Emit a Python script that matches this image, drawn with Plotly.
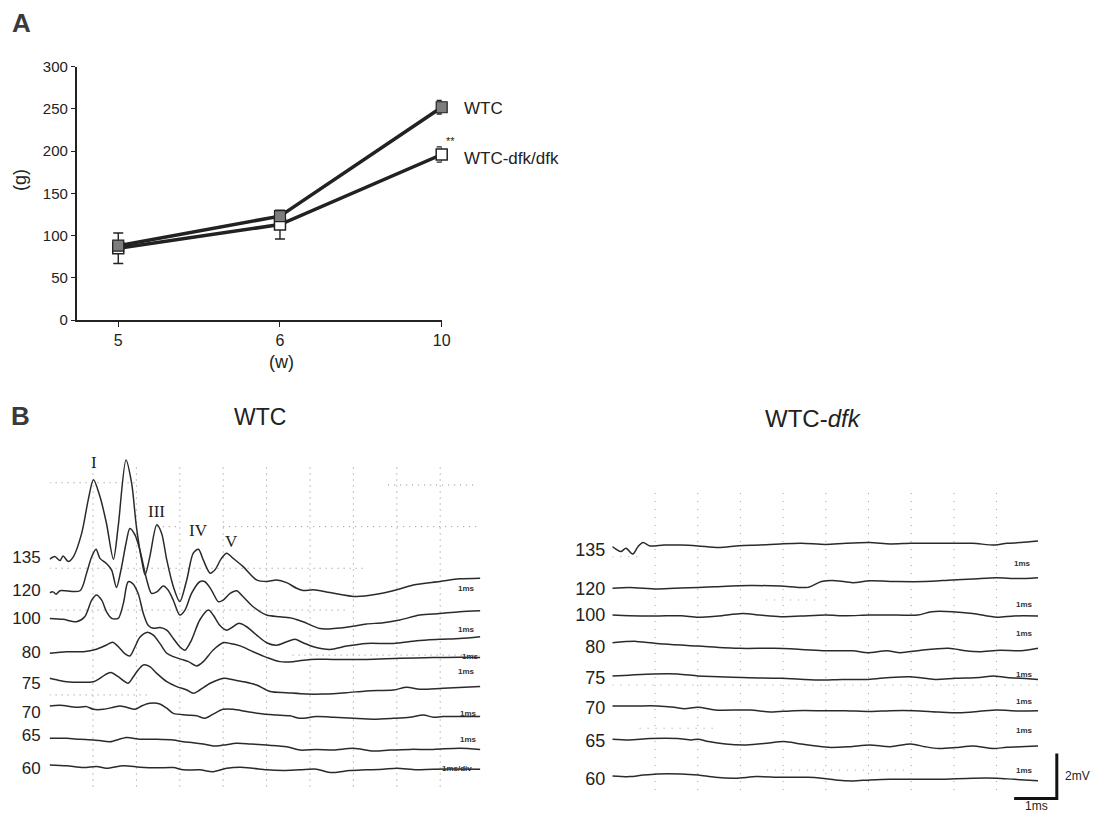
import plotly.graph_objects as go

# page geometry: the browser body keeps an 8px margin, so the figure is drawn inside it
PAGE_W, PAGE_H = 1101, 821
BODY = 8
W, H = PAGE_W - 2 * BODY, PAGE_H - 2 * BODY
FONT = "Liberation Sans, Arial, sans-serif"
SERIF = "Liberation Serif, DejaVu Serif, serif"
INK = "#222222"

# ---------------- Panel A data (body weight) ----------------
weeks = ["5", "6", "10"]
wtc_weight = [88, 123, 252]
wtc_sd = [5, 5, 8]
dfk_weight = [85, 113, 196]
dfk_sd = [18, 17, 9]

# ---------------- Panel B data (ABR waveforms, ms / mV relative to baseline) ----------------
intensities = [135, 120, 100, 80, 75, 70, 65, 60]

wtc_135 = [(0, 0), (0.12, 0.12), (0.24, -0.06), (0.31, 0.15), (0.43, -0.10), (0.55, 0.12), (0.74, 1.16), (0.89, 2.64),
           (1.01, 3.53), (1.16, 2.79), (1.31, 1.60), (1.47, 0.00), (1.58, 1.45), (1.76, 4.41), (1.89, 3.38), (2.00, 1.45),
           (2.12, -0.03), (2.20, -0.70), (2.31, 0.12), (2.47, 1.53), (2.58, 1.16), (2.70, -0.03), (2.85, -1.21),
           (3.00, -1.88), (3.16, -0.92), (3.31, 0.27), (3.43, 0.44), (3.54, -0.03), (3.70, -0.62), (3.81, -0.47),
           (3.96, 0.04), (4.08, 0.27), (4.23, 0.04), (4.46, -0.33), (4.77, -0.92), (5.00, -0.99), (5.23, -0.92),
           (5.46, -1.04), (5.69, -1.29), (5.84, -1.39), (6.08, -1.36), (6.46, -1.48), (7.07, -1.66), (7.53, -1.56),
           (8.00, -1.36), (8.38, -1.14), (8.99, -0.99), (9.45, -0.87), (9.92, -0.84)]
wtc_120 = [(0, 0), (0.08, 0.04), (0.15, -0.06), (0.24, 0.09), (0.70, 0.09), (0.85, 0.86), (0.97, 1.60), (1.07, 1.93),
           (1.16, 1.53), (1.31, 1.30), (1.43, 1.01), (1.54, 0.24), (1.66, 1.16), (1.76, 2.19), (1.85, 2.86), (1.97, 2.56),
           (2.08, 1.90), (2.24, 0.56), (2.35, -0.03), (2.47, 0.04), (2.62, 0.30), (2.73, 0.12), (2.85, -0.33),
           (3.00, -0.99), (3.12, -0.77), (3.27, -0.03), (3.46, 0.49), (3.58, 0.49), (3.73, 0.12), (3.89, -0.40),
           (4.00, -0.33), (4.16, -0.03), (4.31, 0.09), (4.46, -0.18), (4.69, -0.62), (5.00, -0.99), (5.31, -1.07),
           (5.61, -1.14), (5.84, -1.29), (6.23, -1.59), (6.54, -1.59), (6.92, -1.51), (7.30, -1.39), (7.69, -1.33),
           (8.07, -1.21), (8.53, -0.99), (8.99, -0.92), (9.45, -0.84), (9.92, -0.80)]
wtc_100 = [(0, 0), (0.31, -0.04), (0.62, -0.15), (0.81, 0.07), (0.97, 0.81), (1.08, 1.04), (1.20, 0.81), (1.31, 0.30),
           (1.43, 0.00), (1.58, 0.00), (1.70, 0.67), (1.81, 1.63), (1.91, 1.56), (2.04, 1.11), (2.16, 0.22), (2.27, -0.30),
           (2.39, -0.44), (2.54, -0.40), (2.70, -0.52), (2.85, -0.89), (3.00, -1.26), (3.12, -1.41), (3.27, -0.96),
           (3.46, -0.07), (3.66, 0.37), (3.77, 0.15), (3.92, -0.30), (4.08, -0.52), (4.23, -0.37), (4.35, -0.22),
           (4.54, -0.37), (4.77, -0.74), (5.00, -1.08), (5.23, -1.19), (5.46, -1.04), (5.65, -0.93), (5.84, -1.08),
           (6.08, -1.26), (6.46, -1.38), (6.84, -1.23), (7.30, -1.11), (7.92, -1.11), (8.46, -0.99), (8.99, -0.93),
           (9.45, -0.89), (9.92, -0.81)]
wtc_80 = [(0, 0), (0.39, 0.07), (0.78, 0.07), (1.08, 0.18), (1.31, 0.37), (1.45, 0.49), (1.58, 0.30), (1.74, -0.03),
          (1.85, -0.12), (1.97, 0.30), (2.08, 0.71), (2.24, 0.93), (2.39, 0.81), (2.54, 0.44), (2.70, 0.00), (2.85, -0.15),
          (3.04, -0.27), (3.20, -0.37), (3.39, -0.56), (3.54, -0.37), (3.77, 0.15), (4.00, 0.47), (4.16, 0.44),
          (4.39, 0.33), (4.69, 0.07), (5.00, -0.18), (5.31, -0.37), (5.61, -0.37), (6.00, -0.27), (6.54, -0.27),
          (7.30, -0.27), (8.07, -0.22), (8.84, -0.19), (9.45, -0.18), (9.92, -0.19)]
wtc_75 = [(0, 0), (0.16, -0.07), (0.39, -0.15), (1.01, -0.15), (1.16, 0.00), (1.31, 0.19), (1.43, 0.25), (1.58, 0.07),
          (1.81, -0.22), (1.93, 0.07), (2.04, 0.37), (2.16, 0.59), (2.31, 0.52), (2.47, 0.22), (2.70, -0.15), (2.93, -0.37),
          (3.16, -0.52), (3.31, -0.67), (3.46, -0.52), (3.70, -0.22), (3.92, -0.04), (4.04, 0.00), (4.23, -0.07),
          (4.46, -0.15), (4.77, -0.30), (5.08, -0.59), (5.46, -0.64), (5.92, -0.70), (6.31, -0.70), (6.84, -0.64),
          (7.30, -0.56), (7.92, -0.52), (8.23, -0.40), (8.53, -0.49), (9.07, -0.44), (9.92, -0.37)]
wtc_70 = [(0, 0), (0.24, 0.03), (0.62, -0.06), (0.85, -0.03), (1.01, -0.15), (1.24, -0.15), (1.47, -0.06), (1.62, 0.00),
          (1.77, -0.06), (1.97, -0.15), (2.12, 0.00), (2.31, 0.12), (2.54, 0.09), (2.70, -0.10), (2.85, -0.33),
          (3.16, -0.40), (3.39, -0.44), (3.58, -0.55), (3.77, -0.36), (4.00, -0.15), (4.23, -0.15), (4.54, -0.25),
          (4.92, -0.36), (5.23, -0.40), (5.54, -0.44), (5.77, -0.55), (6.15, -0.47), (6.54, -0.50), (7.00, -0.55),
          (7.46, -0.59), (7.92, -0.55), (8.30, -0.50), (8.61, -0.40), (8.84, -0.50), (9.07, -0.47), (9.92, -0.47)]
wtc_65 = [(0, 0), (0.39, 0.00), (0.70, -0.04), (1.01, -0.07), (1.16, -0.10), (1.39, -0.15), (1.77, 0.04), (2.08, -0.04),
          (2.47, -0.04), (2.85, -0.07), (3.08, -0.15), (3.31, -0.19), (3.54, -0.25), (3.77, -0.34), (4.00, -0.30),
          (4.31, -0.22), (4.62, -0.25), (5.00, -0.30), (5.46, -0.37), (5.77, -0.52), (6.15, -0.49), (6.54, -0.52),
          (7.00, -0.44), (7.46, -0.56), (7.84, -0.52), (8.30, -0.49), (8.84, -0.49), (9.45, -0.44), (9.92, -0.49)]
wtc_60 = [(0, 0), (0.39, -0.04), (0.78, -0.12), (1.08, -0.07), (1.31, -0.15), (1.70, -0.04), (2.08, -0.10), (2.47, -0.13),
          (2.85, -0.12), (3.08, -0.22), (3.46, -0.22), (3.77, -0.30), (4.08, -0.15), (4.39, -0.10), (4.69, -0.15),
          (5.00, -0.22), (5.38, -0.25), (5.77, -0.22), (6.15, -0.19), (6.46, -0.34), (6.92, -0.25), (7.30, -0.22),
          (7.69, -0.19), (8.00, -0.15), (8.46, -0.22), (8.84, -0.19), (9.92, -0.19)]

dfk_135 = [(0, 0), (0.20, -0.22), (0.32, -0.07), (0.48, -0.33), (0.60, 0.00), (0.72, 0.18), (0.88, 0.03), (1.21, 0.07),
           (1.61, 0.07), (2.01, 0.03), (2.49, -0.04), (2.97, 0.04), (3.46, 0.07), (3.94, 0.12), (4.42, 0.15), (5.00, 0.10),
           (5.47, 0.15), (6.03, 0.18), (6.51, 0.12), (6.99, 0.15), (7.48, 0.15), (8.00, 0.15), (8.44, 0.15), (8.96, 0.07),
           (9.24, 0.15), (9.57, 0.18), (9.97, 0.25)]
dfk_120 = [(0, 0), (0.40, 0.04), (1.05, -0.03), (1.61, 0.01), (2.01, 0.04), (2.41, 0.07), (3.22, 0.12), (3.94, 0.10),
           (4.58, 0.04), (4.90, 0.30), (5.23, 0.34), (5.63, 0.25), (6.03, 0.33), (6.67, 0.30), (7.32, 0.30), (7.96, 0.37),
           (8.44, 0.41), (9.00, 0.47), (9.49, 0.43), (9.97, 0.47)]
dfk_100 = [(0, 0), (0.40, -0.03), (1.05, -0.04), (1.61, -0.03), (2.01, -0.10), (2.49, -0.04), (3.05, 0.07), (3.46, 0.00),
           (3.94, -0.07), (4.42, -0.04), (5.00, 0.00), (5.47, -0.03), (6.03, 0.00), (6.67, 0.00), (7.15, 0.00), (7.48, 0.15),
           (7.96, 0.15), (8.44, 0.07), (9.00, -0.10), (9.41, -0.04), (9.97, -0.04)]
dfk_80 = [(0, 0), (0.56, 0.06), (1.21, -0.06), (2.01, -0.15), (2.97, -0.25), (3.78, -0.25), (4.42, -0.30), (5.00, -0.36),
          (5.63, -0.36), (5.99, -0.44), (6.43, -0.36), (6.75, -0.44), (7.23, -0.33), (7.88, -0.25), (8.28, -0.36),
          (8.60, -0.40), (9.08, -0.33), (9.57, -0.36), (9.97, -0.25)]
dfk_75 = [(0, 0), (0.40, 0.04), (0.96, 0.09), (1.53, 0.09), (2.01, 0.00), (2.49, -0.03), (3.05, -0.07), (3.94, -0.10),
          (4.82, -0.18), (5.39, -0.15), (5.99, -0.15), (6.51, -0.06), (6.99, -0.03), (7.56, -0.15), (8.04, -0.10),
          (8.60, -0.06), (8.92, 0.00), (9.24, -0.06), (9.97, -0.15)]
dfk_70 = [(0, 0), (0.56, 0.00), (1.05, 0.00), (1.45, -0.06), (1.69, -0.12), (2.01, -0.06), (2.41, -0.18), (3.22, -0.18),
          (3.70, -0.27), (4.26, -0.21), (4.98, -0.21), (5.47, -0.21), (6.03, -0.25), (6.51, -0.21), (7.07, -0.21),
          (7.64, -0.27), (8.12, -0.30), (8.60, -0.24), (9.00, -0.18), (9.49, -0.22), (9.97, -0.21)]
dfk_65 = [(0, 0), (0.40, -0.03), (0.88, 0.03), (1.53, 0.03), (1.85, -0.03), (2.01, 0.00), (2.25, -0.10), (2.65, -0.21),
          (3.14, -0.25), (3.62, -0.18), (4.02, -0.10), (4.42, -0.21), (5.06, -0.36), (5.55, -0.33), (6.03, -0.25),
          (6.51, -0.33), (6.99, -0.21), (7.32, -0.33), (7.64, -0.41), (8.04, -0.37), (8.44, -0.30), (8.92, -0.41),
          (9.24, -0.36), (9.97, -0.30)]
dfk_60 = [(0, 0), (0.40, -0.03), (0.72, 0.04), (1.05, 0.09), (1.61, 0.09), (2.01, 0.04), (2.41, -0.06), (2.89, -0.10),
          (3.38, -0.03), (3.94, -0.06), (4.58, -0.06), (4.90, -0.10), (5.23, -0.18), (5.63, -0.22), (6.03, -0.18),
          (6.51, -0.15), (6.99, -0.15), (7.64, -0.15), (8.44, -0.10), (9.00, -0.10), (9.41, -0.15), (9.97, -0.21)]

peak_names = ["I", "II", "III", "IV", "V"]
scale_ms = 1
scale_mv = 2

# ---------------- layout helpers (stacking / placement) ----------------
wtc_offsets = [10.70, 9.21, 8.07, 6.52, 5.41, 4.18, 2.74, 1.56]
dfk_offsets = [11.26, 9.41, 8.22, 6.99, 5.51, 4.18, 2.70, 1.07]
wtc_label_pos = [10.81, 9.33, 8.07, 6.59, 5.19, 3.93, 2.89, 1.41]
dfk_label_pos = [11.14, 9.41, 8.22, 6.81, 5.45, 4.12, 2.64, 0.96]
peak_label_pos = [(1.02, 15.0), (1.76, 16.2), (2.47, 12.8), (3.44, 11.96), (4.20, 11.47)]
wtc_tag_pos = [(9.61, 9.41), (9.61, 7.56), (9.69, 6.37), (9.61, 5.70), (9.65, 3.85), (9.65, 2.67), (9.38, 1.41)]
dfk_tag_pos = [(9.61, 10.52), (9.65, 8.71), (9.65, 7.41), (9.65, 5.56), (9.65, 4.37), (9.65, 3.11), (9.65, 1.33)]
wtc_hgrid = [(14.1, 0.0, 2.0), (12.15, 2.47, 3.0), (12.15, 4.0, 9.85), (14.0, 7.8, 9.85), (10.3, 0.0, 7.3),
             (8.44, 0.0, 6.84), (6.44, 5.6, 9.9), (4.67, 0.0, 2.31)]
dfk_hgrid = [(10.81, 0.0, 0.6), (8.89, 3.6, 4.8), (5.11, 0.0, 9.97), (3.19, 0.64, 2.41), (1.33, 3.62, 6.83)]
grid_ms = [1, 2, 3, 4, 5, 6, 7, 8, 9]
bar_corner = (10.41, 0.07)


def px_x(p):
    return (p - BODY) / W


def px_y(p):
    return 1 - (p - BODY) / H


fig = go.Figure()

# ---------------- Panel A ----------------
fig.add_trace(go.Scatter(
    x=weeks, y=dfk_weight, mode="lines+markers", xaxis="x", yaxis="y", cliponaxis=False,
    line=dict(color=INK, width=3.5),
    marker=dict(symbol="square", size=11, color="white", line=dict(color=INK, width=1.5)),
    error_y=dict(type="data", array=dfk_sd, color=INK, thickness=1.4, width=5),
    showlegend=False, name="WTC-dfk/dfk"))
fig.add_trace(go.Scatter(
    x=weeks, y=wtc_weight, mode="lines+markers", xaxis="x", yaxis="y", cliponaxis=False,
    line=dict(color=INK, width=3.5),
    marker=dict(symbol="square", size=11, color="#7d7d7d", line=dict(color=INK, width=1.2)),
    error_y=dict(type="data", array=wtc_sd, color=INK, thickness=1.4, width=5),
    showlegend=False, name="WTC"))

# ---------------- Panel B ----------------
wtc_traces = [wtc_135, wtc_120, wtc_100, wtc_80, wtc_75, wtc_70, wtc_65, wtc_60]
dfk_traces = [dfk_135, dfk_120, dfk_100, dfk_80, dfk_75, dfk_70, dfk_65, dfk_60]

for wave, off in zip(wtc_traces, wtc_offsets):
    fig.add_trace(go.Scatter(
        x=[p[0] for p in wave], y=[off + p[1] for p in wave], mode="lines",
        xaxis="x2", yaxis="y2", line=dict(color="#2a2a2a", width=1.5, shape="spline", smoothing=0.8),
        showlegend=False, hoverinfo="skip"))

for wave, off in zip(dfk_traces, dfk_offsets):
    fig.add_trace(go.Scatter(
        x=[p[0] for p in wave], y=[off + p[1] for p in wave], mode="lines",
        xaxis="x3", yaxis="y3", line=dict(color="#2a2a2a", width=1.5, shape="spline", smoothing=0.8),
        showlegend=False, hoverinfo="skip"))

# scale bar
bx, by = bar_corner
fig.add_trace(go.Scatter(
    x=[bx - scale_ms, bx, bx], y=[by, by, by + scale_mv], mode="lines",
    xaxis="x3", yaxis="y3", line=dict(color="#111111", width=3), showlegend=False, hoverinfo="skip"))

# ---------------- axes ----------------
B_Y_DOMAIN = [px_y(811.25), px_y(440)]
MS_L = 43.4      # px per ms, left traces
MS_R = 42.7      # px per ms, right traces
fig.update_layout(
    width=W, height=H, margin=dict(l=0, r=0, t=0, b=0, pad=0, autoexpand=False),
    paper_bgcolor="white", plot_bgcolor="white",
    font=dict(family=FONT, color=INK),
    xaxis=dict(domain=[px_x(76.7), px_x(441.7)], type="category", categoryorder="array", categoryarray=weeks,
               range=[-0.257, 2.0], showline=True, linecolor=INK, linewidth=1.6, ticks="outside",
               ticklen=5, tickcolor=INK, tickwidth=1.3, showgrid=False, zeroline=False, automargin=False,
               tickfont=dict(size=16, family=FONT), anchor="y"),
    yaxis=dict(domain=[px_y(320), px_y(66.7)], range=[0, 300], dtick=50, showline=True, linecolor=INK,
               linewidth=1.6, ticks="outside", ticklen=4, tickcolor=INK, tickwidth=1.3, showgrid=False,
               zeroline=False, automargin=False, tickfont=dict(size=15, family=FONT), anchor="x"),
    xaxis2=dict(domain=[px_x(49.6), px_x(49.6 + MS_L * 10)], range=[0, 10], visible=False, anchor="y2",
                automargin=False),
    yaxis2=dict(domain=B_Y_DOMAIN, range=[-0.5, 16], showgrid=False, zeroline=False, showline=False,
                tickvals=wtc_label_pos, ticktext=[str(i) for i in intensities], ticks="", automargin=False,
                ticklabelstandoff=8, tickfont=dict(size=17, family=FONT, color=INK), anchor="x2"),
    xaxis3=dict(domain=[px_x(612.3), px_x(612.3 + MS_R * 10.6)], range=[0, 10.6], visible=False,
                anchor="y3", automargin=False),
    yaxis3=dict(domain=B_Y_DOMAIN, range=[-0.5, 16], showgrid=False, zeroline=False, showline=False,
                tickvals=dfk_label_pos, ticktext=[str(i) for i in intensities], ticks="", automargin=False,
                ticklabelstandoff=6, tickfont=dict(size=18, family=FONT, color=INK), anchor="x3"),
)

# ---------------- grid dots (oscilloscope graticule) ----------------
shapes = []
for t in grid_ms:
    shapes.append(dict(type="line", xref="x2", yref="y2", x0=t, x1=t, y0=0.6, y1=15.0, layer="below",
                       line=dict(color="#8a8a8a", width=1, dash="1px,5px")))
    shapes.append(dict(type="line", xref="x3", yref="y3", x0=t, x1=t, y0=0.44, y1=13.9, layer="below",
                       line=dict(color="#9a9a9a", width=1, dash="1px,7px")))
for v, t0, t1 in wtc_hgrid:
    shapes.append(dict(type="line", xref="x2", yref="y2", x0=t0, x1=t1, y0=v, y1=v, layer="below",
                       line=dict(color="#8a8a8a", width=1, dash="1px,5px")))
for v, t0, t1 in dfk_hgrid:
    shapes.append(dict(type="line", xref="x3", yref="y3", x0=t0, x1=t1, y0=v, y1=v, layer="below",
                       line=dict(color="#a0a0a0", width=1, dash="1px,7px")))
fig.update_layout(shapes=shapes)

# ---------------- annotations ----------------
ann = []


def paper_text(x, y, text, size, **kw):
    d = dict(xref="paper", yref="paper", x=px_x(x), y=px_y(y), text=text, showarrow=False,
             xanchor="center", yanchor="middle",
             font=dict(size=size, family=kw.pop("family", FONT), color=kw.pop("color", INK)))
    d.update(kw)
    ann.append(d)


def data_text(xr, yr, x, y, text, size, **kw):
    d = dict(xref=xr, yref=yr, x=x, y=y, text=text, showarrow=False,
             xanchor="center", yanchor="middle",
             font=dict(size=size, family=kw.pop("family", FONT), color=kw.pop("color", INK)))
    d.update(kw)
    ann.append(d)


paper_text(21, 23, "<b>A</b>", 26, color="#3a3a3a")
paper_text(20, 416, "<b>B</b>", 26, color="#3a3a3a")
paper_text(461.7, 108.3, "WTC", 17, xanchor="left")
paper_text(461.7, 158.3, "WTC-dfk/dfk", 17, xanchor="left")
paper_text(450, 141, "**", 11)
paper_text(20, 180, "(g)", 18, textangle=-90)
paper_text(281.7, 361.7, "(w)", 18)
paper_text(259.7, 417, "WTC", 23)
paper_text(813.3, 418.3, "WTC-<i>dfk</i>", 24)

for name, (t, v) in zip(peak_names, peak_label_pos):
    data_text("x2", "y2", t, v, name, 17, family=SERIF)

for i, (t, v) in enumerate(wtc_tag_pos):
    data_text("x2", "y2", t, v, "<b>1ms</b>" if i < 6 else "<b>1ms/div</b>", 8, color="#333333")
for t, v in dfk_tag_pos:
    data_text("x3", "y3", t, v, "<b>1ms</b>", 8, color="#333333")

data_text("x3", "y3", bx, by + scale_mv / 2, f"{scale_mv}mV", 12, xanchor="left", xshift=6)
paper_text(1036.7, 806, f"{scale_ms}ms", 12)

fig.update_layout(annotations=ann)

fig.write_html("out.html")
